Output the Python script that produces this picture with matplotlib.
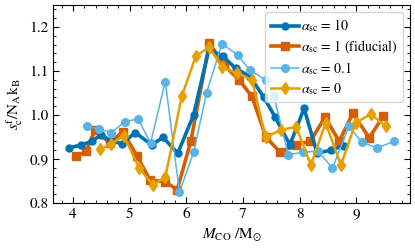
import matplotlib
matplotlib.use("Agg")
import matplotlib.pyplot as plt
from matplotlib.ticker import MultipleLocator

plt.rcParams['font.family'] = ['STIXGeneral', 'DejaVu Serif']
plt.rcParams['mathtext.fontset'] = 'stix'

# alpha_sc = 10
x10 = [3.93, 4.15, 4.33, 4.50, 4.68, 4.87, 5.10, 5.39, 5.59, 5.85, 6.13, 6.40, 6.65, 6.87, 7.13, 7.37, 7.57, 7.83, 8.08, 8.31, 8.55, 8.78]
y10 = [0.925, 0.932, 0.940, 0.955, 0.940, 0.935, 0.960, 0.932, 0.949, 0.913, 1.000, 1.150, 1.133, 1.106, 1.087, 1.040, 0.995, 0.932, 1.015, 0.913, 0.920, 0.930]

# alpha_sc = 1 (fiducial)
x1 = [4.05, 4.23, 4.39, 4.65, 4.88, 5.13, 5.36, 5.63, 5.84, 6.08, 6.41, 6.66, 6.93, 7.16, 7.41, 7.66, 7.93, 8.19, 8.45, 8.70, 8.94, 9.23, 9.48]
y1 = [0.906, 0.917, 0.966, 0.936, 0.962, 0.907, 0.852, 0.848, 0.830, 0.940, 1.163, 1.114, 1.080, 1.042, 0.949, 0.915, 0.932, 0.940, 0.995, 0.940, 1.004, 0.948, 0.998]

# alpha_sc = 0.1
x01 = [4.24, 4.46, 4.68, 4.92, 5.15, 5.37, 5.63, 5.88, 6.13, 6.36, 6.63, 6.91, 7.12, 7.40, 7.55, 7.80, 8.06, 8.33, 8.58, 8.87, 9.10, 9.37, 9.66]
y01 = [0.974, 0.968, 0.960, 0.985, 0.991, 0.936, 1.076, 0.824, 0.915, 1.051, 1.162, 1.136, 1.102, 1.080, 1.042, 0.910, 0.915, 0.918, 0.879, 0.974, 0.938, 0.925, 0.940]

# alpha_sc = 0
x0 = [4.48, 4.67, 4.90, 5.17, 5.41, 5.63, 5.92, 6.17, 6.41, 6.63, 6.90, 7.16, 7.40, 7.67, 7.94, 8.20, 8.46, 8.73, 8.99, 9.26, 9.52]
y0 = [0.922, 0.934, 0.952, 0.879, 0.841, 0.858, 1.042, 1.134, 1.154, 1.108, 1.095, 1.080, 0.949, 0.966, 0.973, 0.886, 0.982, 0.886, 0.982, 1.002, 0.974]

labels = [r'$\alpha_{\rm sc}$ = 10', r'$\alpha_{\rm sc}$ = 1 (fiducial)',
          r'$\alpha_{\rm sc}$ = 0.1', r'$\alpha_{\rm sc}$ = 0']

fig = plt.figure(figsize=(4.15, 2.49), dpi=100)
ax = fig.add_axes([0.128, 0.185, 0.860, 0.795])

ax.plot(x10, y10, color='#0072B2', lw=2.6, marker='o', ms=5, label=labels[0], zorder=3)
ax.plot(x1, y1, color='#D55E00', lw=2.6, marker='s', ms=6, label=labels[1], zorder=2)
ax.plot(x01, y01, color='#56B4E9', lw=1.1, marker='o', ms=5.5, label=labels[2], zorder=4)
ax.plot(x0, y0, color='#E69F00', lw=1.8, marker='d', ms=6, label=labels[3], zorder=5)

ax.set_xlim(3.65, 9.95)
ax.set_ylim(0.8, 1.25)
ax.set_xticks([4, 5, 6, 7, 8, 9])
ax.set_yticks([0.8, 0.9, 1.0, 1.1, 1.2])
ax.xaxis.set_minor_locator(MultipleLocator(0.2))
ax.yaxis.set_minor_locator(MultipleLocator(0.02))
ax.tick_params(which='both', direction='in', top=True, right=True, labelsize=11)
ax.tick_params(which='major', length=4, width=0.8)
ax.tick_params(which='minor', length=2, width=0.6)

ax.set_xlabel(r'$M_{\rm CO}$ /M$_{\odot}$', fontsize=11, labelpad=4)
ax.set_ylabel(r'$s_{\rm c}^{\rm f}$/N$_{\rm A}$k$_{\rm B}$', fontsize=11, labelpad=3)

leg = ax.legend(loc='upper right', fontsize=10, handlelength=2.0, handletextpad=0.2,
                borderpad=0.4, labelspacing=0.3, framealpha=0.8, edgecolor='#cccccc',
                borderaxespad=0.5)

fig.savefig('out.png', dpi=100)
